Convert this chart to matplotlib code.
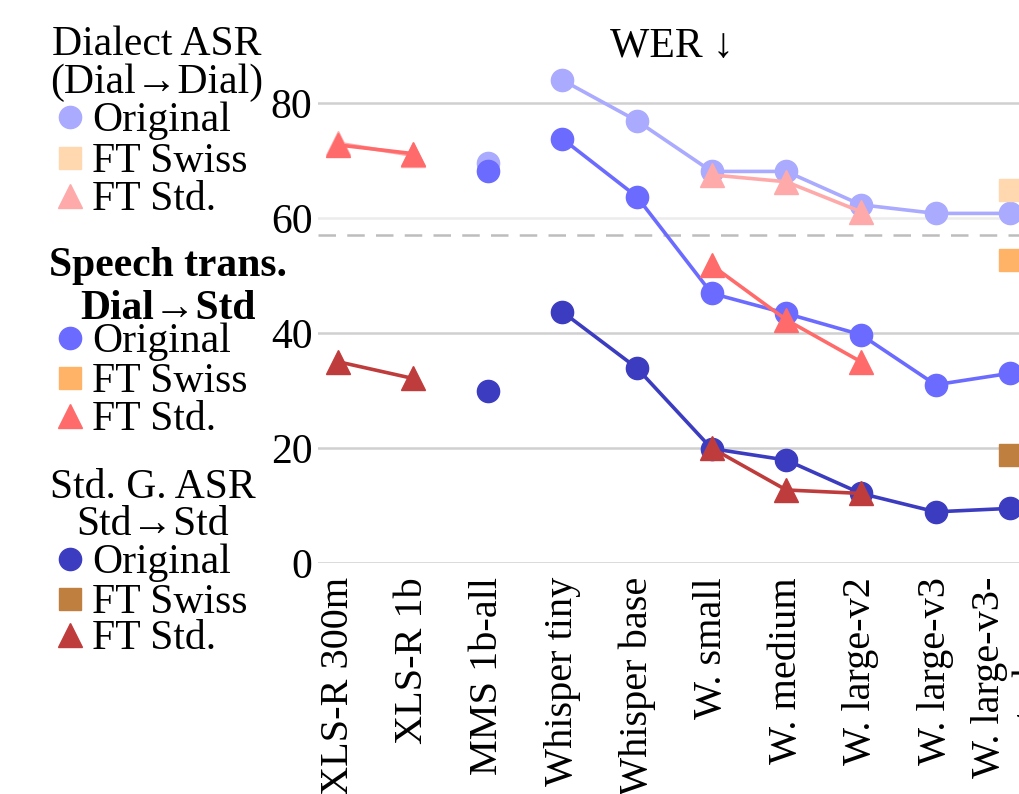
import numpy as np
import matplotlib
matplotlib.use("Agg")
import matplotlib.pyplot as plt
from matplotlib.lines import Line2D

plt.rcParams['font.family'] = ['Liberation Serif', 'DejaVu Serif']

# ---- data -------------------------------------------------------------
models = ["XLS-R 300m", "XLS-R 1b", "MMS 1b-all", "Whisper tiny", "Whisper base",
          "W. small", "W. medium", "W. large-v2", "W. large-v3", "W. large-v3-\nturbo"]

# model families (index ranges) that are joined by lines
families = [(0, 2), (2, 3), (3, 10)]

N = np.nan
# Dialect ASR (Dial -> Dial)
dial_orig  = [N, N, 69.5, 84.0, 76.9, 68.1, 68.1, 62.3, 60.8, 60.8]
dial_swiss = [N, N, N, N, N, N, N, N, N, 64.9]
dial_std   = [73.0, 70.9, N, N, N, 67.5, 66.3, 61.1, N, N]
# Speech translation (Dial -> Std)
st_orig    = [N, N, 68.1, 73.8, 63.7, 46.9, 43.4, 39.7, 31.0, 33.0]
st_swiss   = [N, N, N, N, N, N, N, N, N, 52.7]
st_std     = [72.7, 71.2, N, N, N, 51.8, 42.3, 35.0, N, N]
# Standard German ASR (Std -> Std)
sg_orig    = [N, N, 30.0, 43.7, 33.9, 19.9, 17.9, 12.1, 8.9, 9.5]
sg_swiss   = [N, N, N, N, N, N, N, N, N, 18.8]
sg_std     = [35.0, 32.1, N, N, N, 20.0, 12.7, 12.1, N, N]

y_ticks = [0, 20, 40, 60, 80]
ref_level = 57.0

# ---- styles -----------------------------------------------------------
C_DIAL = {"orig": "#aaaaff", "swiss": "#ffd8b0", "std": "#ffaaaa"}
C_ST   = {"orig": "#6b6bff", "swiss": "#ffb366", "std": "#ff6b6b"}
C_SG   = {"orig": "#3c3cc0", "swiss": "#bf7f3f", "std": "#bf3c3c"}
MK = {"orig": ("o", 16), "swiss": ("s", 16), "std": ("^", 17)}
FS = 30

W, H = 1020, 794
fig = plt.figure(figsize=(W / 100, H / 100), dpi=100)

def fx(px):
    return px / W

def fy(py):
    return 1 - py / H

# axes box in pixels: left 318, bottom (y=0) 563, top 57; extends past right edge
ax_left, ax_right, ax_bot, ax_top = 318, 1085, 563, 57
ax = fig.add_axes([fx(ax_left), fy(ax_bot), fx(ax_right - ax_left), (ax_bot - ax_top) / H])
ax.set_xlim(-0.27, 10.0)
ax.set_ylim(0, 88)
for s in ax.spines.values():
    s.set_visible(False)

# grid
for t in y_ticks:
    col = "#ececec" if t == 60 else "#d0d0d0"
    ax.axhline(t, color=col, lw=1.8, zorder=0)
ax.axhline(ref_level, color="#bdbdbd", lw=1.8, dashes=(7, 4.5), zorder=0)

x = np.arange(len(models))

def draw(series, color, kind, z):
    m, ms = MK[kind]
    vals = np.array(series, dtype=float)
    for a, b in families:
        ax.plot(x[a:b], vals[a:b], color=color, lw=2.6, marker=m, ms=ms,
                mec=color, mfc=color, zorder=z, clip_on=False)

# drawn back-to-front
draw(dial_orig, C_DIAL["orig"], "orig", 2)
draw(dial_swiss, C_DIAL["swiss"], "swiss", 2)
draw(dial_std, C_DIAL["std"], "std", 3)
draw(st_orig, C_ST["orig"], "orig", 4)
draw(st_swiss, C_ST["swiss"], "swiss", 4)
draw(st_std, C_ST["std"], "std", 5)
draw(sg_orig, C_SG["orig"], "orig", 6)
draw(sg_swiss, C_SG["swiss"], "swiss", 6)
draw(sg_std, C_SG["std"], "std", 7)

ax.set_yticks(y_ticks)
ax.set_yticklabels([str(t) for t in y_ticks], fontsize=FS)
ax.set_xticks(x)
ax.set_xticklabels(models, rotation=90, fontsize=29, multialignment="center")
ax.tick_params(axis="y", length=0, pad=4)
ax.tick_params(axis="x", length=0, pad=10)

# title
fig.text(fx(672), fy(57), "WER ↓", fontsize=FS, ha="center", va="baseline")

# ---- legend blocks ----------------------------------------------------
def block(header_lines, items, colors, bold=False):
    for (txt, cx, base) in header_lines:
        fig.text(fx(cx), fy(base), txt, fontsize=FS, ha="center", va="baseline",
                 fontweight="bold" if bold else "normal")
    for (label, kind, base) in items:
        m, ms = MK[kind]
        fig.add_artist(Line2D([fx(70)], [fy(base - 14)], transform=fig.transFigure,
                              marker=m, ms=ms, color=colors[kind], lw=0))
        fig.text(fx(92), fy(base), label, fontsize=FS, ha="left", va="baseline")

block([("Dialect ASR", 157, 55), ("(Dial→Dial)", 157, 93)],
      [("Original", "orig", 131), ("FT Swiss", "swiss", 172), ("FT Std.", "std", 210)],
      C_DIAL)
block([("Speech trans.", 168, 276), ("Dial→Std", 168, 319)],
      [("Original", "orig", 352), ("FT Swiss", "swiss", 392), ("FT Std.", "std", 430)],
      C_ST, bold=True)
block([("Std. G. ASR", 153, 498), ("Std→Std", 153, 535)],
      [("Original", "orig", 573), ("FT Swiss", "swiss", 613), ("FT Std.", "std", 649)],
      C_SG)

fig.savefig("out.png", dpi=100)
